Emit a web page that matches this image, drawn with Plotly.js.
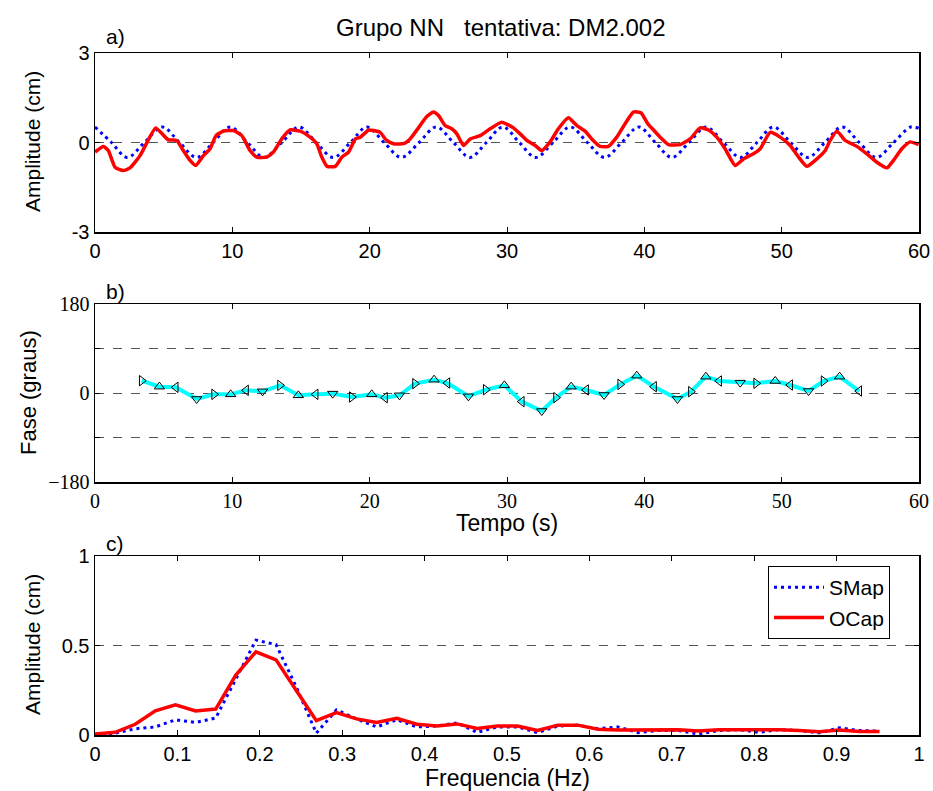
<!DOCTYPE html>
<html><head><meta charset="utf-8">
<script src="https://cdn.plot.ly/plotly-3.0.1.min.js"></script>
<style>html,body{margin:0;padding:0;background:#fff}#chart{width:933px;height:791px}</style>
</head><body><div id="chart"></div>
<script>
// ---- Panel a: time series (s, cm)
const smapT = [0, 1.2, 2.35, 3.6, 4.9, 6.15, 7.4, 8.6, 9.85, 11.1, 12.3, 13.6, 14.85, 16.1, 17.35, 18.6, 19.8, 21.05, 22.3, 23.6, 24.85, 26.1, 27.3, 28.5, 29.7, 30.9, 32.1, 33.35, 34.6, 35.85, 37.1, 38.35, 39.6, 40.8, 42.0, 43.25, 44.5, 45.75, 47.0, 48.2, 49.4, 50.65, 51.9, 53.15, 54.4, 55.65, 56.9, 58.15, 59.4, 60];
const smapV = [0.52, 0, -0.5, 0, 0.52, 0, -0.5, 0, 0.52, 0, -0.5, 0, 0.52, 0, -0.5, 0, 0.52, 0, -0.5, 0, 0.52, 0, -0.5, 0, 0.52, 0, -0.5, 0, 0.52, 0, -0.5, 0, 0.52, 0, -0.5, 0, 0.52, 0, -0.5, 0, 0.52, 0, -0.5, 0, 0.52, 0, -0.5, 0, 0.52, 0.47];
const ocapT = [0, 0.61, 0.97, 1.46, 2.06, 2.55, 3.28, 3.88, 4.42, 4.85, 5.34, 5.95, 6.43, 6.92, 7.33, 7.89, 8.38, 8.81, 9.35, 10.08, 10.69, 11.29, 11.78, 12.5, 12.99, 13.6, 14.2, 14.93, 15.66, 16.15, 16.51, 16.9, 17.5, 17.98, 18.47, 18.96, 19.32, 19.93, 20.27, 20.76, 21.24, 21.73, 22.46, 22.94, 23.55, 24.16, 24.64, 25.0, 25.49, 25.98, 26.35, 26.83, 27.32, 28.05, 28.77, 29.62, 30.47, 30.96, 31.44, 32.05, 32.53, 33.14, 33.74, 34.47, 35.08, 35.69, 36.17, 36.78, 37.38, 37.99, 38.6, 39.2, 39.75, 40.25, 40.67, 41.15, 41.76, 42.61, 43.33, 44.06, 44.67, 45.27, 45.88, 46.61, 47.22, 47.95, 48.44, 49.16, 49.89, 50.62, 51.23, 51.83, 52.44, 53.17, 53.53, 54.02, 54.62, 55.47, 56.2, 56.93, 57.66, 58.14, 58.75, 59.36, 59.97];
const ocapV = [-0.32, -0.13, -0.27, -0.83, -0.94, -0.85, -0.44, 0.09, 0.49, 0.31, 0.09, 0.07, -0.27, -0.6, -0.77, -0.44, -0.21, 0.23, 0.38, 0.40, 0.23, -0.27, -0.49, -0.49, -0.32, 0.12, 0.42, 0.38, 0.18, -0.04, -0.49, -0.8, -0.8, -0.49, -0.32, 0.12, 0.18, 0.42, 0.40, 0.34, 0.07, -0.04, -0.04, 0.12, 0.49, 0.87, 1.02, 0.91, 0.57, 0.46, 0.29, -0.1, 0.12, 0.23, 0.46, 0.68, 0.49, 0.29, 0.07, -0.1, -0.27, 0.02, 0.46, 0.83, 0.57, 0.38, 0.12, -0.13, -0.13, 0.18, 0.63, 1.02, 1.0, 0.63, 0.42, 0.18, -0.07, -0.07, 0.12, 0.49, 0.42, 0.18, -0.21, -0.77, -0.55, -0.38, -0.21, 0.34, 0.18, -0.1, -0.49, -0.8, -0.6, -0.27, 0.07, 0.38, 0.07, -0.13, -0.38, -0.66, -0.85, -0.6, -0.21, 0.02, -0.07];

// ---- Panel b: phase (degrees)
const phaseT = [3.4, 4.69, 5.88, 7.4, 8.67, 9.88, 11.0, 12.2, 13.47, 14.81, 16.07, 17.31, 18.7, 20.15, 21.12, 22.17, 23.3, 24.69, 25.66, 27.19, 28.45, 29.81, 31.08, 32.53, 33.57, 34.67, 35.76, 37.07, 38.24, 39.45, 40.71, 42.41, 43.39, 44.48, 45.45, 46.98, 48.14, 49.53, 50.62, 51.96, 53.05, 54.22, 55.65];
const phaseV = [24.9, 12.8, 11.5, -12.1, -2.7, -2.7, 5.4, 3.4, 15.5, -4.7, -2.7, -1.3, -8.1, -2.7, -9.4, -4.7, 18.9, 26.9, 20.2, -6.7, 6.7, 15.5, -17.5, -36.4, -9.4, 12.8, 6.1, -4.0, 17.5, 35.1, 12.8, -12.1, 2.7, 33.0, 24.3, 20.9, 19.6, 24.3, 16.2, 4.0, 24.3, 33.0, 4.0];

// ---- Panel c: spectrum (Hz, cm)
const freq = [0, 0.0244, 0.0488, 0.0732, 0.0977, 0.1221, 0.1465, 0.1709, 0.1953, 0.2197, 0.2441, 0.2686, 0.2930, 0.3174, 0.3418, 0.3662, 0.3906, 0.4150, 0.4395, 0.4639, 0.4883, 0.5127, 0.5371, 0.5615, 0.5859, 0.6104, 0.6348, 0.6592, 0.6836, 0.7080, 0.7324, 0.7568, 0.7813, 0.8057, 0.8301, 0.8545, 0.8789, 0.9033, 0.9277, 0.9521];
const specSMap = [0.0, 0.01, 0.035, 0.045, 0.085, 0.07, 0.095, 0.31, 0.53, 0.505, 0.27, 0.01, 0.14, 0.09, 0.045, 0.085, 0.045, 0.05, 0.068, 0.015, 0.045, 0.045, 0.013, 0.05, 0.055, 0.035, 0.045, 0.013, 0.025, 0.025, 0.005, 0.025, 0.03, 0.015, 0.03, 0.025, 0.012, 0.04, 0.025, 0.022];
const specOCap = [0.005, 0.015, 0.06, 0.135, 0.168, 0.134, 0.145, 0.335, 0.465, 0.42, 0.25, 0.08, 0.125, 0.09, 0.07, 0.093, 0.06, 0.05, 0.062, 0.037, 0.05, 0.05, 0.025, 0.055, 0.055, 0.032, 0.028, 0.03, 0.03, 0.03, 0.022, 0.03, 0.03, 0.03, 0.03, 0.025, 0.018, 0.028, 0.02, 0.02];

const timeTicks = [0, 10, 20, 30, 40, 50, 60];
const freqTicks = [0, 0.1, 0.2, 0.3, 0.4, 0.5, 0.6, 0.7, 0.8, 0.9, 1];
const ampTicks = [-3, 0, 3];
const ampTickText = ['-3', '0', '3'];
const phaseTicks = [-180, -90, 0, 90, 180];
const phaseTickText = ['\u2212180', '', '0', '', '180'];
const specTicks = [0, 0.5, 1];
const specTickText = ['0', '0.5', '1'];
const seriesNames = ['SMap', 'OCap'];

const SANS = 'Liberation Sans, Arial, sans-serif';
const SERIF = 'Liberation Serif, Times New Roman, serif';
const BLUE = '#0000ff', RED = '#ff0000', CYAN = '#00ffff';
const symCycle = ['triangle-right-open', 'triangle-up-open', 'triangle-left-open', 'triangle-down-open'];

const traces = [
  {x: smapT, y: smapV, xaxis: 'x', yaxis: 'y', mode: 'lines', line: {color: BLUE, width: 3, dash: '3px,4px', shape: 'spline', smoothing: 1}, showlegend: false, name: seriesNames[0]},
  {x: ocapT, y: ocapV, xaxis: 'x', yaxis: 'y', mode: 'lines', line: {color: RED, width: 3.5, shape: 'spline', smoothing: 0.5}, showlegend: false, name: seriesNames[1]},
  {x: phaseT, y: phaseV, xaxis: 'x2', yaxis: 'y2', mode: 'lines+markers', line: {color: CYAN, width: 4},
   marker: {symbol: phaseT.map((_, i) => symCycle[i % 4]), color: '#000', size: 9, line: {width: 1, color: '#000'}}, showlegend: false},
  {x: freq, y: specSMap, xaxis: 'x3', yaxis: 'y3', mode: 'lines', line: {color: BLUE, width: 3, dash: '3px,4px'}, name: seriesNames[0]},
  {x: freq, y: specOCap, xaxis: 'x3', yaxis: 'y3', mode: 'lines', line: {color: RED, width: 3.5}, name: seriesNames[1]}
];

function xax(range, ticks, font, anchor) {
  return {domain: [0, 1], anchor: anchor, range: range, tickvals: ticks, ticks: 'inside', ticklen: 5, tickwidth: 1, tickcolor: '#000',
    showline: true, linecolor: '#000', linewidth: 1.5, mirror: 'ticks', showgrid: false, zeroline: false,
    tickfont: {family: font, size: 20, color: '#000'}, fixedrange: true};
}
function yax(dom, range, ticks, text, font, anchor) {
  return {domain: dom, anchor: anchor, range: range, tickvals: ticks, ticktext: text, ticks: 'inside', ticklen: 5, tickwidth: 1, tickcolor: '#000',
    showline: true, linecolor: '#000', linewidth: 1.5, mirror: 'ticks', showgrid: true, griddash: 'dash', gridcolor: '#555', gridwidth: 1,
    zeroline: false, tickfont: {family: font, size: 20, color: '#000'}, fixedrange: true};
}

const H = 791;
const layout = {
  width: 933, height: 791, margin: {l: 95, r: 14, t: 0, b: 0},
  paper_bgcolor: '#fff', plot_bgcolor: '#fff', showlegend: true,
  font: {family: SANS, color: '#000'},
  xaxis: xax([0, 60], timeTicks, SANS, 'y'),
  yaxis: yax([1 - 232 / H, 1 - 53 / H], [-3, 3], ampTicks, ampTickText, SANS, 'x'),
  xaxis2: xax([0, 60], timeTicks, SERIF, 'y2'),
  yaxis2: yax([1 - 482 / H, 1 - 304 / H], [-180, 180], phaseTicks, phaseTickText, SERIF, 'x2'),
  xaxis3: xax([0, 1], freqTicks, SANS, 'y3'),
  yaxis3: yax([1 - 735 / H, 1 - 556 / H], [0, 1], specTicks, specTickText, SANS, 'x3'),
  legend: {x: (768 - 95) / 824, y: 1 - 566 / H, xanchor: 'left', yanchor: 'top', bgcolor: '#fff', bordercolor: '#000', borderwidth: 1,
    font: {family: SANS, size: 21, color: '#000'}, tracegroupgap: 0, itemwidth: 50},
  annotations: [
    {text: 'Grupo NN&nbsp;&nbsp;&nbsp;tentativa: DM2.002', x: (500 - 95) / 824, y: 1 - 27 / H, xref: 'paper', yref: 'paper', showarrow: false, xanchor: 'center', yanchor: 'middle', font: {family: SANS, size: 24}},
    {text: 'a)', x: (104 - 95) / 824, y: 1 - 37 / H, xref: 'paper', yref: 'paper', showarrow: false, xanchor: 'left', yanchor: 'middle', font: {family: SANS, size: 21}},
    {text: 'b)', x: (104 - 95) / 824, y: 1 - 291 / H, xref: 'paper', yref: 'paper', showarrow: false, xanchor: 'left', yanchor: 'middle', font: {family: SANS, size: 21}},
    {text: 'c)', x: (104 - 95) / 824, y: 1 - 543 / H, xref: 'paper', yref: 'paper', showarrow: false, xanchor: 'left', yanchor: 'middle', font: {family: SANS, size: 21}},
    {text: 'Amplitude (cm)', x: (32 - 95) / 824, y: 1 - 142 / H, xref: 'paper', yref: 'paper', showarrow: false, textangle: -90, xanchor: 'center', yanchor: 'middle', font: {family: SANS, size: 21}},
    {text: 'Fase (graus)', x: (28 - 95) / 824, y: 1 - 393 / H, xref: 'paper', yref: 'paper', showarrow: false, textangle: -90, xanchor: 'center', yanchor: 'middle', font: {family: SANS, size: 22}},
    {text: 'Amplitude (cm)', x: (32 - 95) / 824, y: 1 - 645 / H, xref: 'paper', yref: 'paper', showarrow: false, textangle: -90, xanchor: 'center', yanchor: 'middle', font: {family: SANS, size: 21}},
    {text: 'Tempo (s)', x: (507 - 95) / 824, y: 1 - 523 / H, xref: 'paper', yref: 'paper', showarrow: false, xanchor: 'center', yanchor: 'middle', font: {family: SANS, size: 23}},
    {text: 'Frequencia (Hz)', x: (507 - 95) / 824, y: 1 - 778 / H, xref: 'paper', yref: 'paper', showarrow: false, xanchor: 'center', yanchor: 'middle', font: {family: SANS, size: 23}}
  ]
};

Plotly.newPlot('chart', traces, layout, {displayModeBar: false, staticPlot: true});
</script></body></html>
